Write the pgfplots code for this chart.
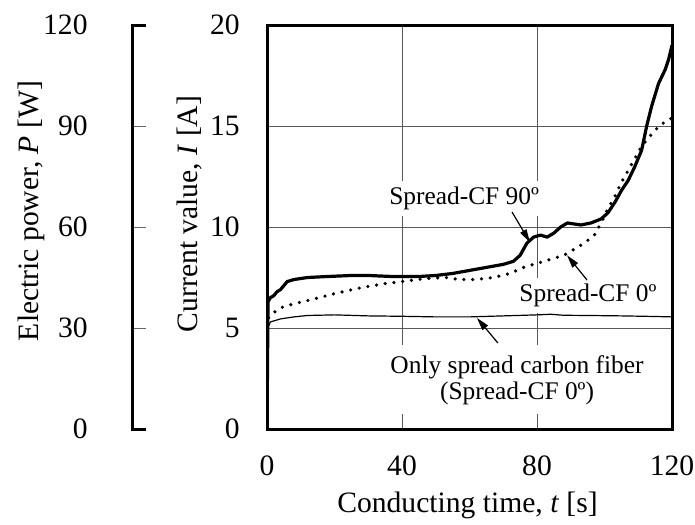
\documentclass[border=0pt]{standalone}
\usepackage{fontspec}
\setmainfont{Liberation Serif}
\usepackage{pgfplots}
\pgfplotsset{compat=1.18}
\usetikzlibrary{arrows.meta}

\newcommand{\lblfont}{\fontsize{14.8}{17.8}\selectfont}
\newcommand{\annfont}{\fontsize{12.7}{12.9}\selectfont}

\begin{document}
\begin{tikzpicture}
\useasboundingbox (0,0) rectangle (347.5pt,-262pt);

% left axis: electric power
\begin{axis}[
  at={(66pt,-214.5pt)}, anchor=south west,
  scale only axis, width=1pt, height=202pt,
  xmin=0, xmax=1, ymin=0, ymax=120,
  hide x axis, axis y line*=left,
  axis line style={draw=none},
  ytick={0,30,60,90,120},
  tick align=inside, major tick length=7pt,
  tick style={black!60, line width=0.5pt},
  /pgf/number format/assume math mode=true,
  yticklabel style={font=\lblfont, inner sep=0pt, xshift=-22pt},
  clip=false,
]
  \draw[line width=1.5pt, line join=miter]
    ([xshift=7pt]rel axis cs:0,0) -- (rel axis cs:0,0) -- (rel axis cs:0,1) -- ([xshift=7pt]rel axis cs:0,1);
\end{axis}

% main axis: current
\begin{axis}[
  at={(133.5pt,-214.5pt)}, anchor=south west,
  scale only axis, width=202.5pt, height=202pt,
  xmin=0, xmax=120, ymin=0, ymax=20,
  xtick={0,40,80,120}, ytick={0,5,10,15,20},
  grid=major, grid style={black!65, line width=0.5pt},
  major tick length=0pt,
  axis line style={line width=1.5pt},
  /pgf/number format/assume math mode=true,
  yticklabel style={font=\lblfont, inner sep=0pt, xshift=-13.5pt},
  xticklabel style={font=\lblfont, inner sep=0pt, yshift=-13pt},
]
  % Only spread carbon fiber
  \addplot[black, line width=0.6pt, line join=round] coordinates {
    (0.2,5.0) (1,5.3) (4,5.45) (8,5.55) (12,5.62) (20,5.65) (30,5.6) (40,5.58)
    (50,5.55) (60,5.55) (70,5.6) (80,5.65) (84,5.68) (88,5.63) (95,5.62)
    (105,5.6) (115,5.57) (120,5.55)
  };
  % Spread-CF 0
  \addplot[black, line width=1.8pt, dash pattern=on 0pt off 4.4pt, line cap=round] coordinates {
    (0.5,5.5) (1.5,5.7) (4,6.0) (8,6.2) (13,6.4) (20,6.7) (28,7.0) (35,7.2)
    (40,7.3) (47,7.45) (53,7.5) (57,7.4) (62,7.4) (67,7.5) (72,7.7) (76,8.0)
    (80,8.2) (84,8.4) (88,8.6) (91,8.9) (94,9.2) (97,9.6) (99,10.2) (101,10.9)
    (103,11.5) (105,12.2) (107,12.8) (109,13.4) (111,14.0) (113,14.4)
    (115,14.8) (117,15.1) (120,15.4)
  };
  % Spread-CF 90
  \addplot[black, line width=1.6pt, line join=round] coordinates {
    (0,0) (0.3,6.3) (1,6.5) (2,6.6) (3,6.8) (4,6.9) (5,7.1) (6,7.3) (8,7.4)
    (12,7.5) (18,7.55) (25,7.6) (30,7.6) (37,7.55) (45,7.55) (50,7.6) (55,7.7)
    (60,7.85) (65,8.0) (70,8.15) (73,8.3) (75,8.6) (77,9.2) (79,9.5) (81,9.6)
    (83,9.5) (85,9.7) (87,10.0) (89,10.2) (91,10.15) (93,10.1) (96,10.2)
    (99,10.4) (101,10.7) (103,11.2) (105,11.8) (107,12.3) (109,13.0)
    (111,13.8) (112.5,15.0) (114,16.0) (116,17.1) (118,17.8) (119,18.3) (120,19.0)
  };

  \node[font=\annfont, fill=white, inner xsep=2pt, inner ysep=3pt, anchor=base]
    at (axis cs:58.4,11.09) {Spread-CF 90º};
  \draw[-{Triangle[length=6.5pt,width=3.5pt]}, line width=0.6pt]
    (axis cs:72.6,10.74) -- (axis cs:77.9,9.25);

  \node[font=\annfont, fill=white, inner xsep=2pt, inner ysep=3pt, anchor=base]
    at (axis cs:95.1,6.29) {Spread-CF 0º};
  \draw[-{Triangle[length=6.5pt,width=3.5pt]}, line width=0.6pt]
    (axis cs:94.8,7.38) -- (axis cs:88.9,8.6);

  \node[font=\annfont, fill=white, inner xsep=2pt, inner ysep=5pt, align=center]
    at (axis cs:74.1,2.43) {Only spread carbon fiber\\(Spread-CF 0º)};
  \draw[-{Triangle[length=6.5pt,width=3.5pt]}, line width=0.6pt]
    (axis cs:68.4,4.26) -- (axis cs:62.2,5.5);
\end{axis}

\node[font=\lblfont, rotate=90] at (95pt,-107pt) {Current value, \textit{I} [A]};
\node[font=\lblfont, rotate=90] at (15.5pt,-105.5pt) {Electric power, \textit{P} [W]};
\node[font=\lblfont, anchor=base] at (233.75pt,-256pt) {Conducting time, \textit{t} [s]};
\end{tikzpicture}
\end{document}
